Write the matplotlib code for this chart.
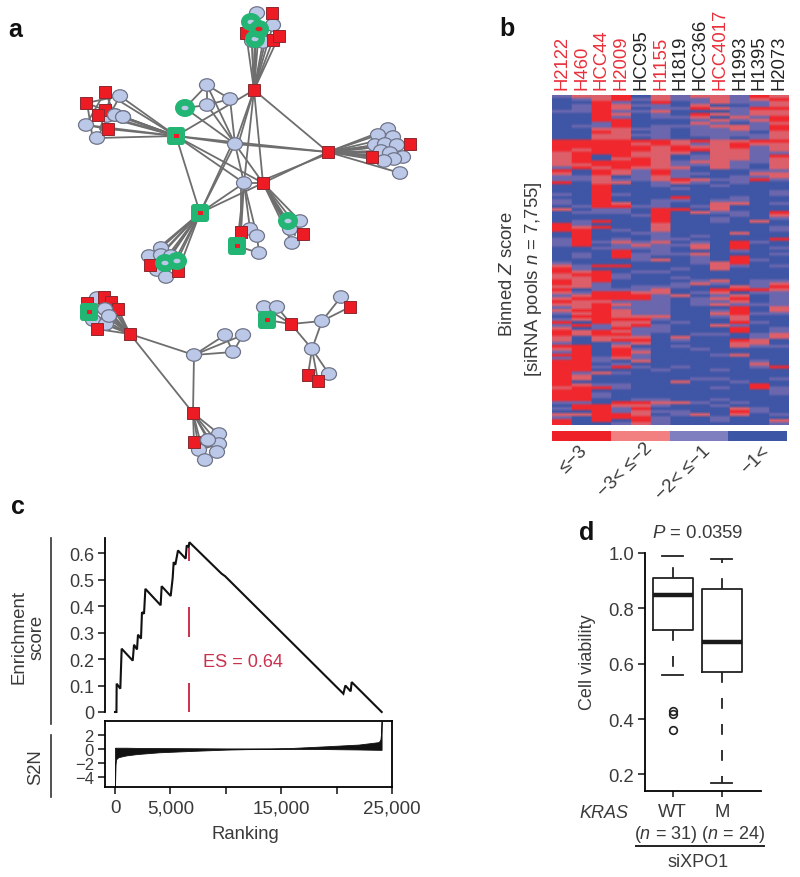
import matplotlib
matplotlib.use('Agg')
import matplotlib.pyplot as plt
from matplotlib.colors import to_rgb
from matplotlib.patches import Ellipse, Rectangle, FancyBboxPatch
import numpy as np

plt.rcParams['font.family'] = ['Liberation Sans', 'DejaVu Sans']
plt.rcParams['mathtext.fontset'] = 'custom'
plt.rcParams['mathtext.rm'] = 'Liberation Sans'
plt.rcParams['mathtext.it'] = 'Liberation Sans:italic'

W, H = 800, 878
GREY = '#3a3a3a'

# ---------------------------
# a: network, node positions
# ---------------------------
hub_top = (254, 91)
hub_right = (328, 153)
hub_mid = (263, 184)
hub_left = (176, 137)
hub_low = (200, 214)
hub_small = (237, 247)
hub_a = (130, 335)
hub_b = (193, 414)
hub_c = (291, 325)
hub_d = (267, 321)

center_nodes = [(207, 86), (230, 100), (207, 106), (235, 145), (244, 184)]
ring_center = (185, 109)

top_circles = [(257, 14), (273, 26), (263, 43), (252, 42)]
top_squares = [(272, 14), (246, 34), (273, 41), (279, 37)]
top_rings = [(251, 23), (255, 40)]
top_ring_red = (259, 30)

left_circles = [(107, 117), (120, 97), (115, 116), (123, 118), (86, 126), (97, 139)]
left_squares = [(105, 111), (105, 93), (86, 104), (98, 116), (108, 130)]

right_circles = [(388, 130), (378, 136), (393, 138), (375, 146), (385, 145), (397, 146),
                 (381, 152), (390, 154), (403, 158), (394, 160), (384, 162), (400, 174)]
right_squares = [(410, 145), (372, 158)]

low_circles = [(161, 249), (149, 257), (161, 256), (171, 257), (157, 271), (166, 278)]
low_squares = [(150, 266), (178, 272)]
low_rings = [(177, 262), (165, 264)]

small_circles = [(250, 230), (257, 237), (259, 254)]
small_squares = [(241, 233)]

mid_circles = [(300, 222), (290, 230), (292, 244)]
mid_squares = [(303, 235)]
mid_rings = [(288, 222)]

a_circles = [(97, 299), (105, 310), (109, 317), (93, 321), (106, 325)]
a_squares = [(104, 298), (87, 304), (111, 303), (118, 310), (97, 330)]
a_green = (89, 313)

b_circles = [(219, 435), (208, 441), (219, 445), (217, 453), (199, 451), (205, 461)]
b_squares = [(194, 443)]

tri_circles = [(194, 356), (225, 336), (243, 336), (233, 353)]
c_circles = [(264, 308), (277, 308), (322, 322), (312, 350), (341, 298), (329, 375)]
c_squares = [(350, 308), (308, 376), (318, 382)]

extra_edges = [
    (hub_top, (235, 145)), (hub_top, (244, 184)), (hub_top, hub_mid), (hub_top, hub_right),
    (hub_top, hub_left), (hub_top, (238, 146)), (hub_left, (235, 145)), (hub_left, hub_right),
    (hub_left, hub_mid), (hub_left, (244, 184)), (hub_left, hub_low),
    ((235, 145), hub_right), ((235, 145), hub_mid), ((235, 145), (244, 184)),
    ((235, 145), hub_low), ((232, 145), hub_low), ((235, 145), ring_center),
    ((235, 145), (207, 86)), ((235, 145), (230, 100)), ((235, 145), (207, 106)),
    (hub_mid, hub_right), ((266, 180), (325, 156)), (hub_mid, hub_low), ((244, 184), hub_mid),
    ((244, 184), hub_low), ((207, 86), (230, 100)), ((207, 86), (207, 106)),
    ((207, 86), ring_center), (ring_center, (207, 106)), ((207, 106), (230, 100)),
    ((244, 184), hub_small), ((244, 184), small_squares[0]), ((244, 184), small_circles[0]),
    ((244, 184), small_circles[1]), (hub_small, small_circles[2]), ((241, 184), small_squares[0]),
    (hub_a, (194, 356)), (hub_a, hub_b), ((194, 356), hub_b), ((194, 356), (225, 336)),
    ((194, 356), (243, 336)), ((194, 356), (233, 353)), ((225, 336), (233, 353)),
    ((243, 336), (233, 353)),
    (hub_d, hub_c), ((264, 308), hub_c), ((277, 308), hub_c), ((264, 308), hub_d),
    (hub_c, (322, 322)), (hub_c, (312, 350)), ((322, 322), (312, 350)), ((322, 322), (341, 298)),
    ((322, 322), (350, 308)), ((312, 350), (308, 376)), ((312, 350), (318, 382)),
    ((312, 350), (329, 375)),
]
cluster_edges = [
    (hub_top, top_circles + top_squares + top_rings + [top_ring_red]),
    (hub_left, left_circles + left_squares),
    (hub_right, right_circles + right_squares),
    (hub_low, low_circles + low_squares + low_rings),
    (hub_mid, mid_circles + mid_squares + mid_rings + [(295, 236), (286, 226)]),
    (hub_a, a_circles + a_squares + [a_green]),
    (hub_b, b_circles + b_squares),
]
loose_edges = [((105, 93), (86, 126)), ((86, 104), (120, 97)), ((120, 97), (97, 139)),
               ((97, 139), (108, 130)), ((86, 126), (108, 130)), ((105, 93), (115, 116)),
               ((88, 110), (92, 135)), ((110, 100), (100, 130)),
               ((259, 254), (257, 237)), ((217, 453), (205, 461)), ((199, 451), (219, 445))]

# ---------------------------
# b: heat map, binned Z score per row (0 blue, 1 lavender, 2 pink, 3 red)
# ---------------------------
cell_lines = ['H2122', 'H460', 'HCC44', 'H2009', 'HCC95', 'H1155',
              'H1819', 'HCC366', 'HCC4017', 'H1993', 'H1395', 'H2073']
line_is_red = [1, 1, 1, 1, 0, 1, 0, 0, 1, 0, 0, 0]
bin_labels = ['≤−3', '−3< ≤−2', '−2< ≤−1', '−1<']
bin_colors = ['#ED2127', '#F28080', '#7F7FBF', '#3C55A5']
heat_colors = ['#3F55A5', '#6B67AE', '#DC5F6A', '#F0282E']
heat_rows = [
    '122302122132', '012312112123', '003103012112', '013211020012', '013201132133',
    '113112000122', '003201032122', '003101120213', '003300012123', '001300021012',
    '011301112213', '002211011213', '003201011102', '002211011112', '002201001012',
    '333333232233', '333323212322', '333332322312', '323332332212', '233322202211',
    '230322012213', '230232012212', '233332122112', '223332112102', '132322202102',
    '303213100011', '203213110022', '112012100112',
    '112112321131', '302201210100', '003001001000', '003000100000', '003000000001',
    '103100000001', '003000300100', '103001101100', '103201002201', '013311012000',
    '201103302000', '011103021103', '000013000102', '000003001001', '013003001020',
    '310002000000', '323002000001', '330102000001', '030011000200', '030001010000',
    '130101100003', '131212010310', '130121120300', '001111020301', '000301000100',
    '010311120001', '010310010300', '000012010310',
    '100000012300', '213300002101', '310000102000', '323011000000', '233100000000',
    '223100100000', '323000012011', '321000121012', '221011100213', '301112003332',
    '213322012011', '123331201201', '233331012301', '322111011201', '223211012111',
    '123111000302', '233211001302', '123211002311', '033222001200', '123331000200',
    '303220100310', '131231002100', '201311000301', '323211000301', '323310011012',
    '202220200012', '202330100320', '100120000220',
    '330200100211', '230310010000', '130320000000', '330310001200', '131210000000',
    '331020000010', '330100000020', '331310100013', '330001001000', '312100000000',
    '320000000000', '320000011001', '300000200100', '321100000030', '233100001031',
    '330000000001', '331000000001', '331000000000', '330011001000', '110332210100',
    '033221001000', '133130000210', '003121100310', '223320120201', '103331001000',
    '303031001002', '300121000001',
]

# ---------------------------
# c: enrichment plot
# ---------------------------
es_rank = [0, 130, 150, 480, 600, 1600, 1715, 1985, 2075, 2345, 2435, 2620, 2740, 4120, 4210,
           5025, 5205, 5295, 5445, 5685, 6380, 6470, 6650, 6710, 9625, 9930, 20610, 20790,
           21270, 21360, 24070]
es_score = [0, 0, 0.107, 0.088, 0.239, 0.194, 0.254, 0.236, 0.292, 0.277, 0.377, 0.371, 0.465,
            0.403, 0.475, 0.438, 0.506, 0.566, 0.556, 0.61, 0.579, 0.629, 0.623, 0.641, 0.522,
            0.513, 0.069, 0.10, 0.078, 0.113, 0]
es_peak_rank = 6680
es_dash_low = [0.57, 0.283, 0]
es_dash_high = [0.62, 0.396, 0.11]
s2n_rank = [0, 20, 50, 100, 300, 1000, 2000, 4000, 7000, 10000, 12000, 14000, 16000, 19000,
            22000, 23800, 23950, 24020, 24060]
s2n_low = [-5.4, -4, -2.2, -1.5, -1.2, -0.95, -0.75, -0.5, -0.3, -0.12, -0.05, -0.04, -0.04,
           -0.04, -0.1, -0.15, -0.15, -0.15, -0.15]
s2n_high = [0.15, 0.15, 0.15, 0.15, 0.15, 0.15, 0.12, 0.1, 0.08, 0.05, 0.05, 0.06, 0.12, 0.35,
            0.6, 0.95, 1.3, 2.2, 3.9]
es_ticks = [0, 0.1, 0.2, 0.3, 0.4, 0.5, 0.6]
es_ticklabels = ['0', '0.1', '0.2', '0.3', '0.4', '0.5', '0.6']
s2n_ticks = [2, 0, -2, -4]
s2n_ticklabels = ['2', '0', '−2', '−4']
rank_ticks = [0, 5000, 10000, 15000, 20000, 25000]
rank_ticklabels = ['0', '5,000', '', '15,000', '', '25,000']

# ---------------------------
# d: box plot
# ---------------------------
box_names = ['WT', 'M']
box_q1 = [0.72, 0.57]
box_med = [0.85, 0.68]
box_q3 = [0.91, 0.87]
box_low = [0.56, 0.17]
box_high = [0.99, 0.98]
box_fliers = [[0.43, 0.42, 0.36], []]
via_ticks = [0.2, 0.4, 0.6, 0.8, 1.0]


def px_axes(x0, y0, x1, y1):
    # axes from pixel box, y counted from the top
    return fig.add_axes([x0 / W, 1 - y1 / H, (x1 - x0) / W, (y1 - y0) / H])


fig = plt.figure(figsize=(W / 100, H / 100), dpi=100, facecolor='white')
ax0 = px_axes(0, 0, W, H)
ax0.set_xlim(0, W)
ax0.set_ylim(H, 0)
ax0.axis('off')

# edges
for a, b in extra_edges + loose_edges:
    ax0.plot([a[0], b[0]], [a[1], b[1]], color='#6e6e6e', lw=1.3, zorder=1)
for hub, nodes in cluster_edges:
    for n in nodes:
        ax0.plot([hub[0], n[0]], [hub[1], n[1]], color='#6e6e6e', lw=1.3, zorder=1)


def circle(p, z=3):
    ax0.add_patch(Ellipse(p, 15, 12.5, fc='#BCC8E8', ec='#6f7488', lw=0.9, zorder=z))


def square(p, z=4):
    ax0.add_patch(Rectangle((p[0] - 6.3, p[1] - 6), 12.6, 12, fc='#ED1C24', ec='#8a2a30', lw=0.7, zorder=z))


def green_square(p, z=5):
    ax0.add_patch(FancyBboxPatch((p[0] - 6.5, p[1] - 6.5), 13, 13, boxstyle='round,pad=2.5,rounding_size=3',
                                 fc='#22B573', ec='none', zorder=z))
    ax0.add_patch(Rectangle((p[0] - 2.5, p[1] - 2), 5, 4, fc='#ED1C24', ec='none', zorder=z + 0.1))


def ring(p, center='#BCC8E8', z=5):
    ax0.add_patch(Ellipse(p, 20, 18, fc='#22B573', ec='none', zorder=z))
    ax0.add_patch(Ellipse(p, 7, 4.5, fc=center, ec='none', zorder=z + 0.1))


for group in [center_nodes, top_circles, left_circles, right_circles, low_circles, small_circles,
              mid_circles, a_circles, b_circles, tri_circles, c_circles]:
    for p in group:
        circle(p)
for group in [top_squares, left_squares, right_squares, low_squares, small_squares, mid_squares,
              a_squares, b_squares, c_squares, [hub_top, hub_right, hub_mid, hub_a, hub_b, hub_c]]:
    for p in group:
        square(p)
for p in [left_circles[2], left_circles[3], a_circles[1], a_circles[2], b_circles[1]]:
    circle(p, z=4.5)
for p in [hub_left, hub_low, hub_small, a_green, hub_d]:
    green_square(p)
for p in [ring_center] + top_rings + low_rings + mid_rings:
    ring(p)
ring(top_ring_red, center='#ED1C24', z=5.2)

# panel letters
for letter, x, y in [('a', 15, 30), ('b', 507, 29), ('c', 18, 507), ('d', 587, 533)]:
    ax0.text(x, y, letter, fontsize=18, fontweight='bold', color='#111111', ha='center', va='center')

# b: heat map, columns stay sharp, rows blur a little
ax_heat = px_axes(552, 96, 789, 426)
levels = np.array([[int(c) for c in row] for row in heat_rows])
rgb = np.array([to_rgb(c) for c in heat_colors])
ax_heat.imshow(np.repeat(rgb[levels], 20, axis=1), aspect='auto', interpolation='bilinear',
               interpolation_stage='rgba')
ax_heat.axis('off')

col_w = (789 - 552) / len(cell_lines)
for i, name in enumerate(cell_lines):
    ax0.text(552 + (i + 0.5) * col_w, 90, name, rotation=90, ha='center', va='bottom', fontsize=13.3,
             color='#E8303A' if line_is_red[i] else '#222222')
ax0.text(508, 274, 'Binned $\\mathit{Z}$ score', rotation=90, ha='center', va='center', fontsize=13.3, color=GREY)
ax0.text(533, 279, '[siRNA pools $\\mathit{n}$ = 7,755]', rotation=90, ha='center', va='center',
         fontsize=13.3, color=GREY)

# colour key under the heat map
ax_key = px_axes(552, 432, 787, 442)
for i, c in enumerate(bin_colors):
    ax_key.bar(i, 1, width=1, color=c)
ax_key.set_xlim(-0.5, 3.5)
ax_key.set_ylim(0, 1)
ax_key.axis('off')
for label, x, y in zip(bin_labels, [573, 625, 683, 755], [460, 470, 473, 460]):
    ax0.text(x, y, label, rotation=45, ha='center', va='center', fontsize=13.5, color=GREY)

# c: enrichment score
ax_es = px_axes(105, 539, 392, 713)
ax_es.plot(es_rank, es_score, color='#111111', lw=1.5, clip_on=False, solid_joinstyle='miter')
ax_es.vlines([es_peak_rank] * 3, es_dash_low, es_dash_high, color='#C8324F', lw=1.4)
ax0.text(243, 663, 'ES = 0.64', ha='center', va='center', fontsize=13.1, color='#C8324F')
ax_es.set_xlim(-903, 25000)
ax_es.set_ylim(0, 0.657)
ax_es.set_xticks([])
ax_es.set_yticks(es_ticks)
ax_es.set_yticklabels(es_ticklabels, fontsize=13, color=GREY)
ax_es.tick_params(axis='y', length=5, width=1.2, pad=3, color='#222222')
for s in ['top', 'right', 'bottom']:
    ax_es.spines[s].set_visible(False)
ax_es.spines['left'].set_linewidth(1.3)
ax_es.patch.set_alpha(0)

# c: signal to noise
ax_s2n = px_axes(105, 722, 392, 788)
ax_s2n.fill_between(s2n_rank, s2n_low, s2n_high, color='#111111', lw=0.6)
ax_s2n.set_xlim(-903, 25000)
ax_s2n.set_ylim(-5.45, 3.96)
ax_s2n.set_yticks(s2n_ticks)
ax_s2n.set_yticklabels(s2n_ticklabels, fontsize=12, color=GREY)
ax_s2n.set_xticks(rank_ticks)
ax_s2n.set_xticklabels(rank_ticklabels, fontsize=13.5, color=GREY)
ax_s2n.tick_params(axis='y', length=5, width=1.2, pad=3, color='#222222')
ax_s2n.tick_params(axis='x', length=5, width=1.2, pad=4, color='#222222')
for s in ax_s2n.spines.values():
    s.set_linewidth(1.3)

ax0.plot([51, 51], [539, 725], color='#333333', lw=1.2)
ax0.plot([51, 51], [736, 798], color='#333333', lw=1.2)
ax0.text(28, 637, 'Enrichment\nscore', rotation=90, ha='center', va='center', fontsize=13.4,
         color=GREY, linespacing=1.15)
ax0.text(36, 767, 'S2N', rotation=90, ha='center', va='center', fontsize=13.3, color=GREY)
ax0.text(245, 835, 'Ranking', ha='center', va='center', fontsize=13.3, color=GREY)

# d: box plot
ax_box = px_axes(645, 554, 761, 792)
stats = []
for i, name in enumerate(box_names):
    stats.append({'label': name, 'q1': box_q1[i], 'med': box_med[i], 'q3': box_q3[i],
                  'whislo': box_low[i], 'whishi': box_high[i], 'fliers': box_fliers[i]})
ax_box.bxp(stats, positions=[1, 2], widths=0.816, capwidths=0.42,
           boxprops=dict(color='#222222', lw=1.3),
           medianprops=dict(color='#1a1a1a', lw=3.2, solid_capstyle='butt'),
           whiskerprops=dict(color='#222222', lw=1.3, linestyle=(0, (6, 8.4))),
           capprops=dict(color='#222222', lw=1.3),
           flierprops=dict(marker='o', mfc='none', mec='#222222', ms=5.5, mew=1.2))
ax_box.set_xlim(0.435, 2.80)
ax_box.set_ylim(0.14, 1.0)
ax_box.set_yticks(via_ticks)
ax_box.set_yticklabels([f'{v:.1f}' for v in via_ticks], fontsize=13.3, color=GREY)
ax_box.set_xticks([1, 2])
ax_box.set_xticklabels(box_names, fontsize=13.3, color=GREY)
ax_box.tick_params(axis='y', length=5, width=1.2, pad=3, color='#222222')
ax_box.tick_params(axis='x', length=4, width=1.2, pad=5, color='#222222')
for s in ['top', 'right']:
    ax_box.spines[s].set_visible(False)
ax_box.spines['left'].set_linewidth(1.3)
ax_box.spines['bottom'].set_linewidth(1.3)

ax0.text(698, 534, '$\\mathit{P}$ = 0.0359', ha='center', va='center', fontsize=13.4, color=GREY)
ax0.text(587, 662, 'Cell viability', rotation=90, ha='center', va='center', fontsize=13, color=GREY)
ax0.text(604, 814, 'KRAS', style='italic', ha='center', va='center', fontsize=13, color=GREY)
ax0.text(699, 835, '($\\mathit{n}$ = 31) ($\\mathit{n}$ = 24)', ha='center', va='center', fontsize=13, color=GREY)
ax0.plot([636, 764], [847, 847], color='#222222', lw=1.4)
ax0.text(698, 863, 'siXPO1', ha='center', va='center', fontsize=13, color=GREY)

fig.savefig('out.png', dpi=100, facecolor='white')
